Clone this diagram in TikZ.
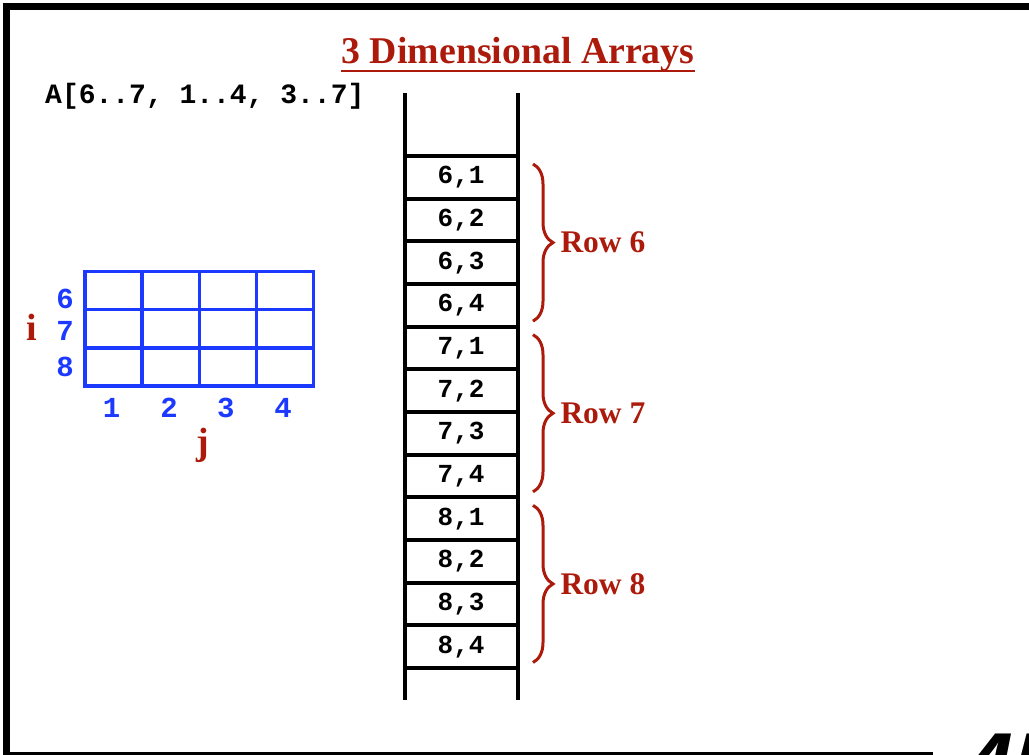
\documentclass[tikz,border=0pt]{standalone}
\usepackage{fontspec}
\setmainfont{Liberation Serif}
\setmonofont{Liberation Mono}
\newfontfamily\pagenofont{Liberation Sans}
\usetikzlibrary{positioning,calc,decorations.pathreplacing}
\definecolor{slidered}{RGB}{172,26,12}
\definecolor{gridblue}{RGB}{28,58,255}

\begin{document}
\begin{tikzpicture}[x=1pt, y=-1pt,
  cell/.style={draw, line width=4pt, minimum width=112.8pt, minimum height=42.67pt, inner sep=0pt,
    font=\fontsize{26}{26}\selectfont\ttfamily\bfseries},
  idx/.style={text=gridblue, inner sep=0pt, font=\fontsize{29}{29}\selectfont\ttfamily\bfseries},
  axis/.style={text=slidered, inner sep=0pt, font=\fontsize{38}{38}\selectfont\bfseries},
  rowlbl/.style={text=slidered, inner sep=0pt, anchor=west, font=\fontsize{31.5}{31.5}\selectfont\bfseries},
  brace/.style={slidered, line width=3pt, decorate, decoration={brace, amplitude=20pt}},
  gridline/.style={gridblue, line width=3.3pt},
  rail/.style={line width=4pt}]
\useasboundingbox (0,0) rectangle (1029,755);
\clip (0,0) rectangle (1029,755);
% slide frame
\draw[line width=6.5pt] (933,755) -- (6.5,755) -- (6.5,6.7) -- (1040,6.7);
\node[anchor=base west, inner sep=0pt, font=\fontsize{88}{88}\selectfont\pagenofont\bfseries\itshape] (pageno) at (964,794) {45};

% title
\node[anchor=base, inner sep=0pt, text=slidered, font=\fontsize{37.8}{37.8}\selectfont\bfseries] (title) at (518,63) {3 Dimensional Arrays};
\draw[slidered, line width=2.2pt] ([yshift=-8pt]title.base west) -- ([yshift=-8pt]title.base east);
\node[anchor=base west, inner sep=0pt, font=\fontsize{28}{28}\selectfont\ttfamily\bfseries] (decl) at (45,103) {A[6..7, 1..4, 3..7]};

% logical view
\draw[gridline] (85,271.7) rectangle (313.3,386);
\foreach \x in {142.1,199.2,256.2} \draw[gridline] (\x,271.7) -- (\x,386);
\foreach \y in {309.8,347.9} \draw[gridline] (85,\y) -- (313.3,\y);
\node[idx] (i6) at (65,299) {6};
\node[idx] (i7) at (65,331) {7};
\node[idx] (i8) at (65,366.7) {8};
\node[idx] (j1) at (111.7,407.5) {1};
\node[idx] (j2) at (169,407.5) {2};
\node[idx] (j3) at (225.8,407.5) {3};
\node[idx] (j4) at (283,407.5) {4};
\node[axis] (ilbl) at (31.7,327) {i};
\node[axis] (jlbl) at (203,445) {j};

% memory layout
\draw[rail] (404.7,93) -- (404.7,700);
\draw[rail] (517.5,93) -- (517.5,700);
\node[cell] (c61) at (461.1,177.33) {6,1};
\node[cell] (c62) at (461.1,220) {6,2};
\node[cell] (c63) at (461.1,262.67) {6,3};
\node[cell] (c64) at (461.1,305.33) {6,4};
\node[cell] (c71) at (461.1,348) {7,1};
\node[cell] (c72) at (461.1,390.67) {7,2};
\node[cell] (c73) at (461.1,433.33) {7,3};
\node[cell] (c74) at (461.1,476) {7,4};
\node[cell] (c81) at (461.1,518.67) {8,1};
\node[cell] (c82) at (461.1,561.33) {8,2};
\node[cell] (c83) at (461.1,604) {8,3};
\node[cell] (c84) at (461.1,646.67) {8,4};

\draw[brace] ([xshift=13.5pt,yshift=-10pt]c61.north east) -- ([xshift=13.5pt,yshift=7.5pt]c64.south east)
  node[rowlbl, midway, xshift=26pt] (row6) {Row 6};
\draw[brace] ([xshift=13.5pt,yshift=-10pt]c71.north east) -- ([xshift=13.5pt,yshift=7.5pt]c74.south east)
  node[rowlbl, midway, xshift=26pt] (row7) {Row 7};
\draw[brace] ([xshift=13.5pt,yshift=-10pt]c81.north east) -- ([xshift=13.5pt,yshift=7.5pt]c84.south east)
  node[rowlbl, midway, xshift=26pt] (row8) {Row 8};
\end{tikzpicture}
\end{document}
